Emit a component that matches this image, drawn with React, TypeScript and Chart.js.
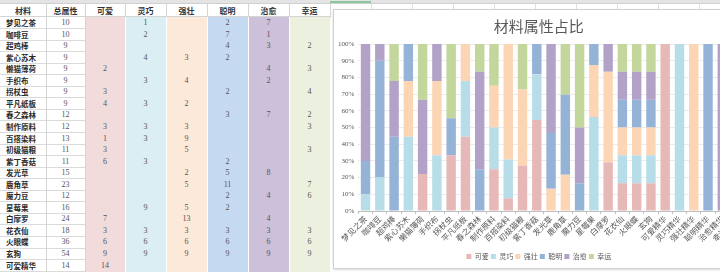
import React, { useEffect, useRef } from 'react';
import { Chart, registerables } from 'chart.js';
Chart.register(...registerables);

const materials = ['梦见之茶','咖啡豆','超鸡棒','紫心苏木','懒猫薄荷','手织布','拐杖虫','平凡纸板','春之森林','制作原料','百搭染料','初级猫粮','紫丁香菇','发光草','鹿角草','魔力豆','星莓果','白摩罗','花衣仙','火眼蝶','玄狗','可爱精华','灵巧精华','强壮精华','聪明精华','治愈精华','幸运精华'];
const totals = [10,10,9,9,9,9,9,9,12,12,13,11,11,15,23,12,16,24,18,36,54,14,14,14,14,14,14];
const attributes = ['可爱','灵巧','强壮','聪明','治愈','幸运'];
const cute   = [null,null,null,null,2,null,3,4,null,3,1,3,6,null,null,null,null,7,3,6,9,14,null,null,null,null,null];
const agile  = [1,2,null,4,null,3,null,3,null,3,3,null,3,null,null,null,9,null,3,6,9,null,14,null,null,null,null];
const strong = [null,null,null,3,null,4,null,2,null,3,9,5,null,2,5,null,5,13,3,6,9,null,null,14,null,null,null];
const smart  = [2,7,4,2,null,null,2,null,3,null,null,null,2,5,11,2,2,null,3,6,9,null,null,null,14,null,null];
const heal   = [7,1,3,null,4,2,null,null,7,null,null,null,null,8,null,4,null,4,3,6,9,null,null,null,null,14,null];
const luck   = [null,null,2,null,3,null,4,null,2,3,null,3,null,null,7,6,null,null,3,6,9,null,null,null,null,null,14];
const seriesValues: (number | null)[][] = [cute, agile, strong, smart, heal, luck];
const chartTitle = '材料属性占比';
const headerMaterial = '材料';
const headerTotal = '总属性';

const barColors = ['#E6B9B8','#B7DEE8','#FCD5B5','#95B3D7','#B3A2C7','#C3D69B'];
const cellColors = ['#F2DCDB','#DAEEF3','#FDE9D9','#C5D9F1','#CCC0DA','#EBF1DE'];

const CJK = "'Noto Sans CJK SC', sans-serif";
const SERIF = "'Liberation Serif', 'Noto Sans CJK SC', serif";

const COLS = [0, 46, 85, 125, 166, 207, 248, 289, 330];
const HEAD_TOP = 3;
const ROW_TOP = 17;
const ROW_H = 11.55;

function Table() {
  const cells: React.ReactNode[] = [];
  // column-letter band
  cells.push(<div key="band" style={{ position: 'absolute', left: 0, top: 0, width: 720, height: 3, background: '#E4E4E4', borderBottom: '1px solid #CFCFCF' }} />);
  cells.push(<div key="sel" style={{ position: 'absolute', left: 330, top: 1, width: 41, height: 2, background: '#8CC5A0' }} />);
  // sheet vertical gridlines beyond table
  for (let k = 0; k < 11; k++) {
    cells.push(<div key={'g' + k} style={{ position: 'absolute', left: 330 + 41 * k, top: 4, width: 1, height: 14, background: '#E0E0E0' }} />);
  }
  // colored columns
  for (let c = 0; c < 6; c++) {
    const x0 = COLS[c + 2], x1 = COLS[c + 3];
    cells.push(<div key={'fill' + c} style={{ position: 'absolute', left: x0 + 1, top: ROW_TOP, width: x1 - x0 - 1, height: 272 - ROW_TOP, background: cellColors[c] }} />);
  }
  // header gridlines
  for (let c = 1; c < COLS.length; c++) {
    cells.push(<div key={'hv' + c} style={{ position: 'absolute', left: COLS[c], top: HEAD_TOP, width: 1, height: ROW_TOP - HEAD_TOP, background: '#D4D4D4' }} />);
  }
  cells.push(<div key="hb" style={{ position: 'absolute', left: 0, top: ROW_TOP - 1, width: 330, height: 1, background: '#D4D4D4' }} />);
  // row gridlines for first two columns
  for (let r = 1; r <= materials.length; r++) {
    cells.push(<div key={'rl' + r} style={{ position: 'absolute', left: 0, top: ROW_TOP + r * ROW_H - 0.5, width: 85, height: 1, background: '#DADADA' }} />);
  }
  cells.push(<div key="v1" style={{ position: 'absolute', left: 46, top: ROW_TOP, width: 1, height: 272, background: '#D4D4D4' }} />);
  cells.push(<div key="v2" style={{ position: 'absolute', left: 85, top: ROW_TOP, width: 1, height: 272, background: '#D4D4D4' }} />);

  const headers = [headerMaterial, headerTotal, ...attributes];
  headers.forEach((h, c) => {
    cells.push(
      <div key={'h' + c} style={{ position: 'absolute', left: COLS[c], top: HEAD_TOP + 1, width: COLS[c + 1] - COLS[c], height: ROW_TOP - HEAD_TOP - 1, lineHeight: (ROW_TOP - HEAD_TOP - 1) + 'px', textAlign: 'center', fontFamily: CJK, fontSize: 8, fontWeight: 600, color: '#333' }}>{h}</div>
    );
  });
  materials.forEach((m, r) => {
    const top = ROW_TOP + r * ROW_H;
    cells.push(
      <div key={'n' + r} style={{ position: 'absolute', left: 6, top, height: ROW_H, lineHeight: ROW_H + 'px', fontFamily: CJK, fontSize: 7.5, fontWeight: 600, color: '#2A2A2A', whiteSpace: 'nowrap' }}>{m}</div>
    );
    cells.push(
      <div key={'t' + r} style={{ position: 'absolute', left: COLS[1], top, width: COLS[2] - COLS[1], height: ROW_H, lineHeight: ROW_H + 'px', textAlign: 'center', fontFamily: SERIF, fontSize: 8, color: '#555' }}>{totals[r]}</div>
    );
    seriesValues.forEach((s, c) => {
      if (s[r] == null) return;
      cells.push(
        <div key={'v' + r + '_' + c} style={{ position: 'absolute', left: COLS[c + 2], top, width: COLS[c + 3] - COLS[c + 2], height: ROW_H, lineHeight: ROW_H + 'px', textAlign: 'center', fontFamily: SERIF, fontSize: 8, color: '#555' }}>{s[r]}</div>
      );
    });
  });
  return <>{cells}</>;
}

export default function App() {
  const ref = useRef<HTMLCanvasElement>(null);
  useEffect(() => {
    const sums = materials.map((_, i) => seriesValues.reduce((a, s) => a + (s[i] ?? 0), 0));
    const chart = new Chart(ref.current as HTMLCanvasElement, {
      type: 'bar',
      data: {
        labels: materials,
        datasets: attributes.map((name, k) => ({
          label: name,
          data: seriesValues[k].map((v, i) => (v == null ? null : (v / sums[i]) * 100)),
          backgroundColor: barColors[k],
          borderWidth: 0,
          barPercentage: 0.66,
          categoryPercentage: 1,
        })),
      },
      options: {
        responsive: false,
        animation: false,
        events: [],
        layout: { padding: { left: 0, right: 8.3, top: 0, bottom: 0 } },
        plugins: {
          title: { display: true, text: chartTitle, color: '#595959', font: { family: CJK, size: 15, weight: 'normal' }, padding: { top: 7, bottom: 9 } },
          legend: { position: 'bottom', labels: { boxWidth: 5, boxHeight: 5, padding: 2, color: '#595959', font: { family: CJK, size: 7 } } },
          tooltip: { enabled: false },
        },
        scales: {
          x: {
            stacked: true,
            grid: { drawOnChartArea: false, drawTicks: true, tickLength: 3, color: '#BFBFBF', offset: true },
            border: { color: '#BFBFBF' },
            ticks: { autoSkip: false, maxRotation: 45, minRotation: 45, padding: 0, color: '#595959', font: { family: CJK, size: 8 } },
            afterFit: (s: any) => { s.height = 40; },
          },
          y: {
            stacked: true,
            min: 0,
            max: 100,
            ticks: { stepSize: 10, callback: (v: any) => v + '%', padding: 4, color: '#595959', font: { family: SERIF, size: 7 } },
            grid: { color: '#EBEBEB', drawTicks: false },
            border: { display: false },
            afterFit: (s: any) => { s.width = 24.4; },
          },
        },
      },
    } as any);
    return () => chart.destroy();
  }, []);

  return (
    <div style={{ position: 'fixed', left: 0, top: 0, width: 720, height: 272, overflow: 'hidden', background: '#fff' }}>
      <Table />
      <div style={{ position: 'absolute', left: 333, top: 9, width: 440, height: 258, border: '1px solid #D0D0D0', background: '#fff', boxShadow: '0 1px 2px rgba(0,0,0,0.15)' }} />
      <canvas ref={ref} width={418} height={260} style={{ position: 'absolute', left: 334, top: 10, width: 418, height: 260 }} />
    </div>
  );
}
